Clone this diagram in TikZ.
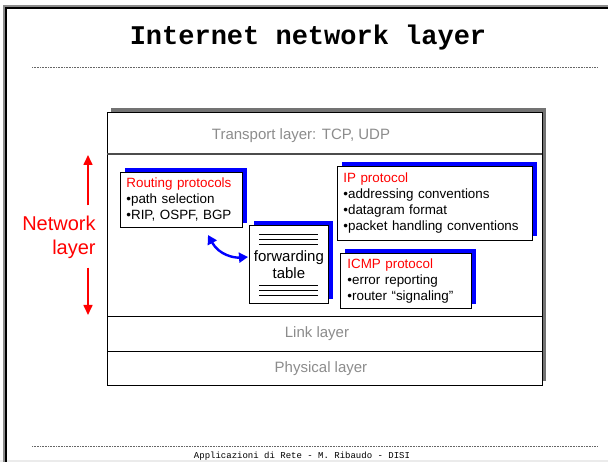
\documentclass[tikz,border=0pt]{standalone}
\usepackage{fontspec}
\setmainfont{Liberation Sans}
\newfontfamily\courierfont{Liberation Mono}
\usetikzlibrary{arrows.meta,shadows}

\begin{document}
\begin{tikzpicture}[x=1pt,y=-1pt,line width=.8pt,
  boxtxt/.style={font=\fontsize{13.4}{16}\selectfont},
  layertxt/.style={text=black!45,font=\fontsize{15}{18}\selectfont},
  protobox/.style={draw,fill=white,anchor=north west,align=left,inner xsep=6pt,inner ysep=0pt,
    general shadow={fill=blue,shadow xshift=5pt,shadow yshift=4pt},boxtxt},
  netarrow/.style={red,line width=1.6pt,-{Triangle[length=10pt,width=9pt]}},
  fwdarrow/.style={blue,line width=2.4pt,{Triangle[length=9pt,width=10pt]}-{Triangle[length=9pt,width=10pt]}},
  dotrule/.style={black!60,line width=.7pt,dash pattern=on .8pt off .8pt}]
\useasboundingbox (0,0) rectangle (608,462);
\fill[black!8] (0,459.5) rectangle (608,462);
\draw[black!45,line width=3pt] (4.5,462) -- (4.5,6.5) -- (608,6.5);
\draw[line width=2pt] (5.8,462) -- (5.8,7.8) -- (608,7.8);
\node[font=\courierfont\bfseries\fontsize{27}{30}\selectfont,anchor=base] (title) at (308,45) {Internet network layer};
\draw[dotrule] (32,67) -- (597,67);
\draw[dotrule] (32,446) -- (597,446);
\node[font=\courierfont\fontsize{9}{10}\selectfont,anchor=base] (footer) at (302,458) {Applicazioni di Rete - M. Ribaudo - DISI};
\node[draw,fill=white,anchor=north west,minimum width=435pt,minimum height=273pt,inner sep=0pt,
  general shadow={fill=black!55,shadow xshift=4pt,shadow yshift=4pt}] (stack) at (107,112) {};
\draw[black!70,line width=1.2pt] (107,154) -- (542,154);
\draw (107,316) -- (542,316);
\draw (107,351) -- (542,351);
\node[layertxt] (transport) at (301,136) {Transport layer: TCP, UDP};
\node[layertxt] (link) at (317,334) {Link layer};
\node[layertxt] (phys) at (321,369) {Physical layer};
\node[text=red,align=right,anchor=east,inner sep=0pt,font=\fontsize{20}{24}\selectfont] (netlbl) at (96,237) {Network\\layer};
\coordinate (nup) at (88,155);
\coordinate (ndown) at (88,315);
\draw[netarrow,shorten <=10pt] (netlbl.north -| nup) -- (nup);
\draw[netarrow,shorten <=9pt] (netlbl.south -| ndown) -- (ndown);
\node[protobox,text width=110pt,minimum height=55pt] (routing) at (120,172)
  {\textcolor{red}{Routing protocols}\\•path selection\\•RIP, OSPF, BGP};
\node[protobox,text width=183pt,minimum height=74pt] (ip) at (337,166)
  {\textcolor{red}{IP protocol}\\•addressing conventions\\•datagram format\\•packet handling conventions};
\node[protobox,text width=117pt,inner xsep=7pt,minimum height=55pt] (icmp) at (340,253)
  {\textcolor{red}{ICMP protocol}\\•error reporting\\•router “signaling”};
\node[protobox,align=center,text width=75pt,inner xsep=2pt,minimum height=78pt,font=\fontsize{15}{17}\selectfont] (fwd) at (249,225)
  {forwarding\\table};
\foreach \y in {234,239,244,285,290,295}
  \draw (259,\y) -- (318,\y);
\coordinate (rtend) at (208,235);
\coordinate (fwdend) at (248,257);
\draw[fwdarrow] (rtend) .. controls (219,255) and (234,258) .. (fwdend);
\end{tikzpicture}
\end{document}
